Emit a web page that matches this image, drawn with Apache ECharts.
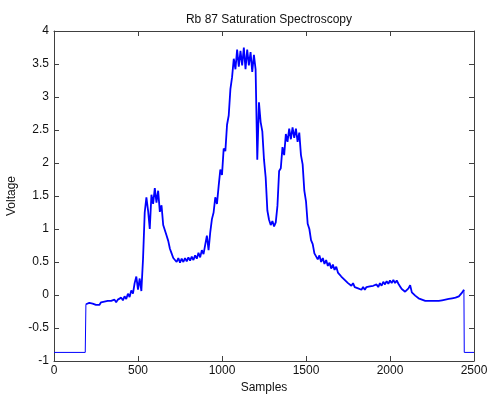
<!DOCTYPE html>
<html>
<head>
<meta charset="utf-8">
<script src="https://cdn.jsdelivr.net/npm/echarts@6/dist/echarts.min.js"></script>
<style>
  html, body { margin: 0; padding: 0; background: #fff; }
  #chart { width: 487px; height: 394px; }
</style>
</head>
<body>
<div id="chart"></div>
<script>
// baseline level before/after the scan
var stepLevel = -0.87;
var stepStart = 186;
var stepEnd = 2442;
var lastSample = 2500;
// voltages read every 10 samples, starting at sample 190
var firstSample = 190;
var sampleStep = 10;
var voltage = [
  -0.14, -0.16, -0.12, -0.15, -0.13, -0.12, -0.15, -0.12, -0.15, -0.11,
  -0.14, -0.10, -0.13, -0.09, -0.12, -0.09, -0.12, -0.07, -0.11, -0.07,
  -0.10, -0.04, -0.08, -0.02, -0.06, 0.02, -0.03, 0.07, 0.02, 0.18,
  0.28, 0.08, 0.25, 0.06, 0.55, 1.25, 1.48, 1.28, 1.00, 1.52,
  1.38, 1.62, 1.40, 1.58, 1.26, 1.36, 1.06, 1.08, 0.90, 0.82,
  0.70, 0.63, 0.56, 0.54, 0.50, 0.56, 0.49, 0.55, 0.50, 0.56,
  0.51, 0.57, 0.52, 0.58, 0.53, 0.60, 0.55, 0.64, 0.57, 0.68,
  0.62, 0.76, 0.90, 0.68, 0.95, 1.15, 1.25, 1.48, 1.38, 1.65,
  1.90, 1.82, 2.22, 2.18, 2.58, 2.72, 3.12, 3.30, 3.58, 3.42,
  3.72, 3.46, 3.70, 3.48, 3.75, 3.42, 3.72, 3.48, 3.68, 3.38,
  3.64, 3.42, 2.05, 2.92, 2.62, 2.48, 2.05, 1.78, 1.28, 1.14,
  1.06, 1.12, 1.04, 1.10, 1.35, 1.88, 1.92, 2.24, 2.12, 2.44,
  2.32, 2.52, 2.36, 2.54, 2.38, 2.52, 2.32, 2.46, 2.12, 1.98,
  1.58, 1.42, 1.08, 1.00, 0.83, 0.77, 0.63, 0.65, 0.54, 0.60,
  0.50, 0.56, 0.47, 0.53, 0.44, 0.49, 0.40, 0.46, 0.38, 0.43,
  0.34, 0.36, 0.28, 0.31, 0.23, 0.25, 0.18, 0.21, 0.14, 0.18,
  0.12, 0.15, 0.10, 0.13, 0.08, 0.12, 0.08, 0.12, 0.09, 0.13,
  0.10, 0.14, 0.11, 0.16, 0.12, 0.18, 0.14, 0.20, 0.16, 0.21,
  0.17, 0.22, 0.18, 0.23, 0.18, 0.22, 0.17, 0.13, 0.09, 0.08,
  0.05, 0.03, 0.10, 0.15, 0.04, 0.04, -0.01, -0.01, -0.05, -0.05,
  -0.07, -0.06, -0.09, -0.06, -0.09, -0.06, -0.09, -0.07, -0.09, -0.06,
  -0.09, -0.06, -0.08, -0.05, -0.07, -0.04, -0.06, -0.03, -0.05, -0.02,
  -0.04, -0.01, -0.02, 0.01, 0.04, 0.08
];

var signal = voltage.map(function (v, i) {
  return [firstSample + i * sampleStep, v];
});
var lastIdx = voltage.length - 1;
var baseStart = [[0, stepLevel], [stepStart, stepLevel], [firstSample, voltage[0]]];
var baseEnd = [[firstSample + lastIdx * sampleStep, voltage[lastIdx]], [stepEnd, stepLevel], [lastSample, stepLevel]];

var font = "Liberation Sans";
var axisCol = "#404040";
var txt = { fontFamily: font, fontSize: 12, color: "#111" };

function boxAxis(extra) {
  return Object.assign({
    type: "value",
    axisLine: { show: true, onZero: false, lineStyle: { color: axisCol, width: 1 } },
    axisTick: { show: true, inside: true, length: 5, lineStyle: { color: axisCol } },
    splitLine: { show: false },
  }, extra);
}

var chart = echarts.init(document.getElementById("chart"));
chart.setOption({
  animation: false,
  backgroundColor: "#fff",
  title: {
    text: "Rb 87 Saturation Spectroscopy",
    left: 264,
    top: 9,
    textAlign: "center",
    textStyle: Object.assign({ fontWeight: "normal" }, txt),
  },
  grid: { left: 54, right: 13, top: 31, bottom: 33, outerBoundsMode: "none", containLabel: false },
  xAxis: [
    boxAxis({
      min: 0, max: 2500, interval: 500,
      name: "Samples", nameLocation: "middle", nameGap: 20,
      nameTextStyle: txt,
      axisLabel: Object.assign({ margin: 4, formatter: function (v) { return String(v); } }, txt),
    }),
    boxAxis({ min: 0, max: 2500, interval: 500, position: "top", axisLabel: { show: false } }),
  ],
  yAxis: [
    boxAxis({
      min: -1, max: 4, interval: 0.5,
      name: "Voltage", nameLocation: "middle", nameGap: 35,
      nameTextStyle: txt,
      axisLabel: Object.assign({ margin: 5 }, txt),
    }),
    boxAxis({ min: -1, max: 4, interval: 0.5, position: "right", axisLabel: { show: false } }),
  ],
  series: [
    {
      type: "line",
      data: baseStart,
      showSymbol: false,
      lineStyle: { color: "#0000ff", width: 1 },
    },
    {
      type: "line",
      data: baseEnd,
      showSymbol: false,
      lineStyle: { color: "#0000ff", width: 1 },
    },
    {
      type: "line",
      data: signal,
      showSymbol: false,
      lineStyle: { color: "#0000ff", width: 1.8 },
    },
  ],
});
</script>
</body>
</html>
